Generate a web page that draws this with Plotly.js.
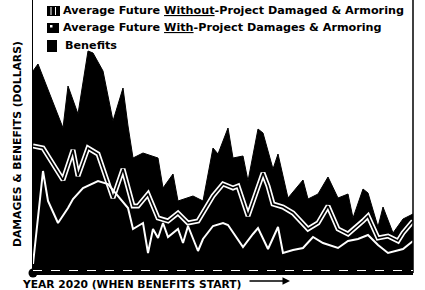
<!DOCTYPE html>
<html>
<head>
<meta charset="utf-8">
<script src="https://cdn.plot.ly/plotly-3.0.1.min.js"></script>
<style>html,body{margin:0;padding:0;background:#fff;}#chart{width:425px;height:290px;}</style>
</head>
<body>
<div id="chart"></div>
<script>
// Years since 2020 (benefits start) and values (relative dollars)
var yearsBenefits = [0,1,6,7,9,11,12,14,16,18,19,20,22,25,26,28,29,32,34,36,37,39,40,42,43,45,46,48,49,51,54,55,57,59,61,63,64,66,67,69,70,72,74,76];
var benefitsTop   = [202,209,145,187,159,222,220,202,152,185,147,115,120,115,85,99,72,77,72,125,119,145,115,117,92,144,140,104,119,75,93,74,79,96,75,79,55,84,80,46,66,40,54,59];

var yearsWithout = [0,2,6,8,9,11,13,16,18,20,21,23,25,27,29,31,33,36,38,40,41,43,46,47,48,50,52,54,55,57,59,61,63,66,67,69,71,73,74,76];
var withoutProject = [127,125,93,123,97,125,119,75,104,67,67,79,55,52,60,50,52,77,89,85,87,57,100,87,69,66,60,50,44,50,67,44,39,52,57,35,37,32,40,52];

var yearsWith = [0,2,3,5,7,8,10,13,15,17,19,20,22,23,24,25,26,27,29,30,31,33,34,36,38,39,41,42,44,45,47,49,50,52,54,56,58,61,63,65,67,69,71,74,76];
var withProject = [9,102,72,50,65,74,85,92,89,77,65,44,50,20,44,35,50,36,44,30,47,22,34,47,50,48,34,26,39,45,24,46,20,23,25,36,30,25,32,34,38,28,20,24,32];

var legendLabels = [
  'Average Future <u>Without</u>-Project Damaged & Armoring',
  'Average Future <u>With</u>-Project Damages & Armoring',
  'Benefits'
];
var yTitle = 'DAMAGES & BENEFITS (DOLLARS)';
var xTitle = 'YEAR 2020 (WHEN BENEFITS START)';

// layout helpers (pixel -> paper)
var W = 425, H = 290, ML = 33, MR = 12, MT = 0, MB = 17;
var PW = W - ML - MR, PH = H - MT - MB;
function px(x){ return (x - ML) / PW; }
function py(y){ return (H - MB - y) / PH; }

var FONT = 'DejaVu Sans';

var traces = [
  {x: yearsBenefits, y: benefitsTop, type: 'scatter', mode: 'lines', fill: 'tozeroy',
   fillcolor: '#000', line: {color: '#000', width: 1}, hoverinfo: 'skip'},
  {x: yearsWithout, y: withoutProject, type: 'scatter', mode: 'lines',
   line: {color: '#fff', width: 5}, hoverinfo: 'skip'},
  {x: yearsWithout, y: withoutProject, type: 'scatter', mode: 'lines',
   line: {color: '#000', width: 1.6}, hoverinfo: 'skip'},
  {x: yearsWith, y: withProject, type: 'scatter', mode: 'lines',
   line: {color: '#fff', width: 2}, hoverinfo: 'skip'},
  {x: [0], y: [0], type: 'scatter', mode: 'markers', cliponaxis: false,
   marker: {color: '#000', size: 9}, hoverinfo: 'skip'}
];

var shapes = [
  // right frame
  {type: 'line', xref: 'paper', yref: 'paper', x0: 1, x1: 1, y0: 0, y1: 1, line: {color: '#000', width: 1.5}},
  // white dashed line just above baseline
  {type: 'line', xref: 'paper', yref: 'paper', x0: 0, x1: 1, y0: py(270.5), y1: py(270.5), line: {color: '#fff', width: 1, dash: 'dash'}},
  // legend symbol 1: hatched box
  {type: 'rect', xref: 'paper', yref: 'paper', x0: px(47), x1: px(60), y0: py(16), y1: py(6), fillcolor: '#000', line: {width: 0}},
  {type: 'line', xref: 'paper', yref: 'paper', x0: px(51), x1: px(51), y0: py(15), y1: py(7), line: {color: '#fff', width: 1}},
  {type: 'line', xref: 'paper', yref: 'paper', x0: px(55.5), x1: px(55.5), y0: py(15), y1: py(7), line: {color: '#fff', width: 1}},
  // legend symbol 2: black box with white dot
  {type: 'rect', xref: 'paper', yref: 'paper', x0: px(47), x1: px(59), y0: py(33), y1: py(23), fillcolor: '#000', line: {width: 0}},
  {type: 'rect', xref: 'paper', yref: 'paper', x0: px(50), x1: px(52.5), y0: py(27.5), y1: py(25), fillcolor: '#fff', line: {width: 0}},
  // legend symbol 3: black box
  {type: 'rect', xref: 'paper', yref: 'paper', x0: px(47), x1: px(57), y0: py(52), y1: py(40), fillcolor: '#000', line: {width: 0}}
];

var annFont = {family: FONT, size: 11.2, color: '#000'};
var annotations = [
  {xref: 'paper', yref: 'paper', x: px(61), y: py(11), xanchor: 'left', yanchor: 'middle', showarrow: false, text: '<b>' + legendLabels[0] + '</b>', font: annFont},
  {xref: 'paper', yref: 'paper', x: px(61), y: py(28), xanchor: 'left', yanchor: 'middle', showarrow: false, text: '<b>' + legendLabels[1] + '</b>', font: annFont},
  {xref: 'paper', yref: 'paper', x: px(63), y: py(46), xanchor: 'left', yanchor: 'middle', showarrow: false, text: '<b>' + legendLabels[2] + '</b>', font: annFont},
  {xref: 'paper', yref: 'paper', x: px(17), y: py(144), xanchor: 'center', yanchor: 'middle', textangle: -90, showarrow: false, text: '<b>' + yTitle + '</b>', font: {family: FONT, size: 10.8, color: '#000'}},
  {xref: 'paper', yref: 'paper', x: px(20), y: py(284), xanchor: 'left', yanchor: 'middle', showarrow: false, text: '<b>' + xTitle + '</b>', font: {family: FONT, size: 10.7, color: '#000'}},
  {xref: 'paper', yref: 'paper', x: px(290), y: py(281), axref: 'pixel', ayref: 'pixel', ax: -42, ay: 0, showarrow: true, text: '', arrowhead: 2, arrowsize: 1, arrowwidth: 1.5, arrowcolor: '#000'}
];

var layout = {
  width: W, height: H,
  margin: {l: ML, r: MR, t: MT, b: MB, pad: 0},
  paper_bgcolor: '#fff', plot_bgcolor: '#fff',
  showlegend: false,
  xaxis: {range: [0, 76], showgrid: false, zeroline: false, showticklabels: false, ticks: '',
          showline: true, linecolor: '#000', linewidth: 2, fixedrange: true},
  yaxis: {range: [0, PH], showgrid: false, zeroline: false, showticklabels: false, ticks: '',
          showline: true, linecolor: '#000', linewidth: 1.5, fixedrange: true},
  shapes: shapes,
  annotations: annotations
};

Plotly.newPlot('chart', traces, layout, {displayModeBar: false, staticPlot: true});
</script>
</body>
</html>
